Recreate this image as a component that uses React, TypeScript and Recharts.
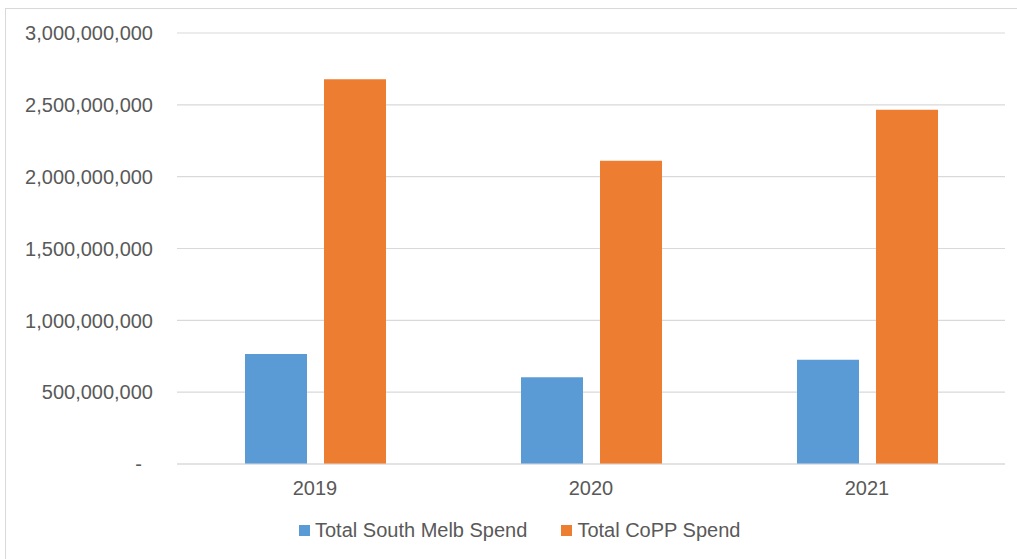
import { BarChart, Bar, XAxis, YAxis, CartesianGrid } from 'recharts';

const years = ['2019', '2020', '2021'];
const southMelbSpend = [765000000, 603000000, 726000000];
const coppSpend = [2678000000, 2110000000, 2465000000];
const yTicks = [0, 500000000, 1000000000, 1500000000, 2000000000, 2500000000, 3000000000];

const seriesNames = ['Total South Melb Spend', 'Total CoPP Spend'];
const seriesColors = ['#5b9bd5', '#ed7d31'];

const data = years.map((year, i) => ({
  year,
  southMelb: southMelbSpend[i],
  copp: coppSpend[i],
}));

const FONT = '"Liberation Sans", Arial, sans-serif';
const TEXT = '#595959';
const GRID = '#d9d9d9';

const YTick = (props: any) => {
  const { y, payload } = props;
  const v = payload.value as number;
  if (v === 0) {
    return (
      <text x={142} y={y} dy="0.36em" textAnchor="end" fontSize={20} fontFamily={FONT} fill={TEXT}>
        -
      </text>
    );
  }
  return (
    <text x={153} y={y} dy="0.36em" textAnchor="end" fontSize={20} fontFamily={FONT} fill={TEXT}>
      {v.toLocaleString('en-US')}
    </text>
  );
};

const XTick = (props: any) => {
  const { x, payload } = props;
  return (
    <text x={x} y={495} textAnchor="middle" fontSize={20} fontFamily={FONT} fill={TEXT}>
      {payload.value}
    </text>
  );
};

export default function App() {
  return (
    <div style={{ position: 'absolute', left: 0, top: 0, width: 1017, height: 559, background: '#fff', overflow: 'hidden' }}>
      {/* chart frame, only the top and left edges fall inside */}
      <div
        style={{
          position: 'absolute',
          left: 5,
          top: 8,
          width: 1012,
          height: 551,
          borderTop: `1px solid ${GRID}`,
          borderLeft: `1px solid ${GRID}`,
          boxSizing: 'border-box',
        }}
      />
      <div style={{ position: 'absolute', left: 0, top: 0 }}>
        <BarChart
          width={1017}
          height={559}
          data={data}
          margin={{ top: 33, right: 12, bottom: 65, left: 0 }}
          barSize={62}
          barGap={17}
        >
          <CartesianGrid vertical={false} stroke={GRID} strokeWidth={1.2} />
          <XAxis dataKey="year" height={30} axisLine={{ stroke: GRID, strokeWidth: 1.2 }} tickLine={false} tick={<XTick />} />
          <YAxis
            width={177}
            domain={[0, 3000000000]}
            ticks={yTicks}
            axisLine={false}
            tickLine={false}
            tick={<YTick />}
          />
          <Bar dataKey="southMelb" name={seriesNames[0]} fill={seriesColors[0]} isAnimationActive={false} />
          <Bar dataKey="copp" name={seriesNames[1]} fill={seriesColors[1]} isAnimationActive={false} />
        </BarChart>
      </div>
      <div
        style={{
          position: 'absolute',
          left: 299,
          top: 519,
          display: 'flex',
          alignItems: 'center',
          fontFamily: FONT,
          fontSize: 20,
          color: TEXT,
          whiteSpace: 'nowrap',
        }}
      >
        {seriesNames.map((name, i) => (
          <div key={name} style={{ display: 'flex', alignItems: 'center', marginRight: 34 }}>
            <span style={{ display: 'inline-block', width: 11, height: 11, background: seriesColors[i], marginRight: 5 }} />
            <span>{name}</span>
          </div>
        ))}
      </div>
    </div>
  );
}
